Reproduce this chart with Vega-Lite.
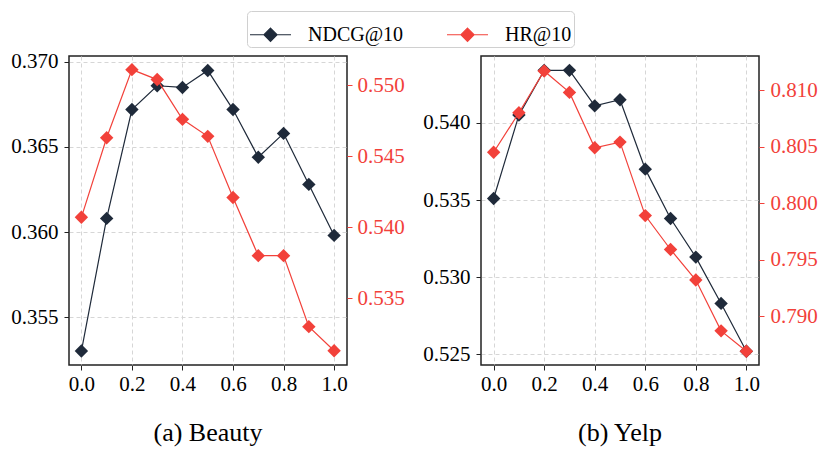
{
  "$schema": "https://vega.github.io/schema/vega-lite/v6.json",
  "background": "white",
  "padding": {"left": 10, "top": 10, "right": 5, "bottom": 5},
  "config": {
    "font": "Liberation Serif",
    "view": {"stroke": "#222222", "strokeWidth": 1.5},
    "axis": {
      "labelFont": "Liberation Serif",
      "labelFontSize": 21,
      "labelColor": "black",
      "tickColor": "#222222",
      "tickSize": 5,
      "domain": false,
      "gridColor": "#d6d6d6",
      "gridDash": [4, 3],
      "gridWidth": 1
    },
    "axisX": {"labelPadding": 3},
    "axisY": {"labelPadding": 6},
    "title": {"font": "Liberation Serif", "fontSize": 26, "fontWeight": "normal", "color": "black"}
  },
  "datasets": {
    "scores": [
      {"dataset": "Beauty", "metric": "NDCG@10", "lambda": 0.0, "value": 0.3530},
      {"dataset": "Beauty", "metric": "NDCG@10", "lambda": 0.1, "value": 0.3608},
      {"dataset": "Beauty", "metric": "NDCG@10", "lambda": 0.2, "value": 0.3672},
      {"dataset": "Beauty", "metric": "NDCG@10", "lambda": 0.3, "value": 0.3686},
      {"dataset": "Beauty", "metric": "NDCG@10", "lambda": 0.4, "value": 0.3685},
      {"dataset": "Beauty", "metric": "NDCG@10", "lambda": 0.5, "value": 0.3695},
      {"dataset": "Beauty", "metric": "NDCG@10", "lambda": 0.6, "value": 0.3672},
      {"dataset": "Beauty", "metric": "NDCG@10", "lambda": 0.7, "value": 0.3644},
      {"dataset": "Beauty", "metric": "NDCG@10", "lambda": 0.8, "value": 0.3658},
      {"dataset": "Beauty", "metric": "NDCG@10", "lambda": 0.9, "value": 0.3628},
      {"dataset": "Beauty", "metric": "NDCG@10", "lambda": 1.0, "value": 0.3598},
      {"dataset": "Beauty", "metric": "HR@10", "lambda": 0.0, "value": 0.5407},
      {"dataset": "Beauty", "metric": "HR@10", "lambda": 0.1, "value": 0.5463},
      {"dataset": "Beauty", "metric": "HR@10", "lambda": 0.2, "value": 0.5511},
      {"dataset": "Beauty", "metric": "HR@10", "lambda": 0.3, "value": 0.5504},
      {"dataset": "Beauty", "metric": "HR@10", "lambda": 0.4, "value": 0.5476},
      {"dataset": "Beauty", "metric": "HR@10", "lambda": 0.5, "value": 0.5464},
      {"dataset": "Beauty", "metric": "HR@10", "lambda": 0.6, "value": 0.5421},
      {"dataset": "Beauty", "metric": "HR@10", "lambda": 0.7, "value": 0.5380},
      {"dataset": "Beauty", "metric": "HR@10", "lambda": 0.8, "value": 0.5380},
      {"dataset": "Beauty", "metric": "HR@10", "lambda": 0.9, "value": 0.5330},
      {"dataset": "Beauty", "metric": "HR@10", "lambda": 1.0, "value": 0.5313},
      {"dataset": "Yelp", "metric": "NDCG@10", "lambda": 0.0, "value": 0.5351},
      {"dataset": "Yelp", "metric": "NDCG@10", "lambda": 0.1, "value": 0.5405},
      {"dataset": "Yelp", "metric": "NDCG@10", "lambda": 0.2, "value": 0.5434},
      {"dataset": "Yelp", "metric": "NDCG@10", "lambda": 0.3, "value": 0.5434},
      {"dataset": "Yelp", "metric": "NDCG@10", "lambda": 0.4, "value": 0.5411},
      {"dataset": "Yelp", "metric": "NDCG@10", "lambda": 0.5, "value": 0.5415},
      {"dataset": "Yelp", "metric": "NDCG@10", "lambda": 0.6, "value": 0.5370},
      {"dataset": "Yelp", "metric": "NDCG@10", "lambda": 0.7, "value": 0.5338},
      {"dataset": "Yelp", "metric": "NDCG@10", "lambda": 0.8, "value": 0.5313},
      {"dataset": "Yelp", "metric": "NDCG@10", "lambda": 0.9, "value": 0.5283},
      {"dataset": "Yelp", "metric": "NDCG@10", "lambda": 1.0, "value": 0.5252},
      {"dataset": "Yelp", "metric": "HR@10", "lambda": 0.0, "value": 0.8045},
      {"dataset": "Yelp", "metric": "HR@10", "lambda": 0.1, "value": 0.8080},
      {"dataset": "Yelp", "metric": "HR@10", "lambda": 0.2, "value": 0.8117},
      {"dataset": "Yelp", "metric": "HR@10", "lambda": 0.3, "value": 0.8098},
      {"dataset": "Yelp", "metric": "HR@10", "lambda": 0.4, "value": 0.8049},
      {"dataset": "Yelp", "metric": "HR@10", "lambda": 0.5, "value": 0.8054},
      {"dataset": "Yelp", "metric": "HR@10", "lambda": 0.6, "value": 0.7989},
      {"dataset": "Yelp", "metric": "HR@10", "lambda": 0.7, "value": 0.7959},
      {"dataset": "Yelp", "metric": "HR@10", "lambda": 0.8, "value": 0.7932},
      {"dataset": "Yelp", "metric": "HR@10", "lambda": 0.9, "value": 0.7887},
      {"dataset": "Yelp", "metric": "HR@10", "lambda": 1.0, "value": 0.7869}
    ]
  },
  "data": {"name": "scores"},
  "spacing": 17,
  "hconcat": [
    {
      "width": 278,
      "height": 309,
      "title": {"text": "(a) Beauty", "orient": "bottom", "offset": 26},
      "transform": [{"filter": "datum.dataset == 'Beauty'"}],
      "encoding": {
        "x": {
          "field": "lambda", "type": "quantitative",
          "scale": {"domain": [-0.049, 1.051], "nice": false, "zero": false},
          "axis": {"title": null, "values": [0, 0.2, 0.4, 0.6, 0.8, 1.0], "format": ".1f", "grid": true}
        },
        "color": {
          "field": "metric", "type": "nominal",
          "scale": {"domain": ["NDCG@10", "HR@10"], "range": ["#1f2a3a", "#f2413a"]},
          "legend": {
            "title": null, "orient": "none", "direction": "horizontal",
            "legendX": 178, "legendY": -45,
            "symbolType": "M-1,0L1,0M0,-0.32L0.32,0L0,0.32L-0.32,0Z",
            "symbolSize": 1681, "symbolStrokeWidth": 1.2,
            "labelFont": "Liberation Serif", "labelFontSize": 20, "labelOffset": 16,
            "columnPadding": 40, "padding": 2,
            "strokeColor": "#d0d0d0", "fillColor": "white", "cornerRadius": 4
          }
        }
      },
      "layer": [
        {
          "transform": [{"filter": "datum.metric == 'NDCG@10'"}],
          "encoding": {
            "y": {
              "field": "value", "type": "quantitative",
              "scale": {"domain": [0.35218, 0.37035], "nice": false, "zero": false},
              "axis": {"title": null, "values": [0.355, 0.36, 0.365, 0.37], "format": ".3f", "grid": true, "orient": "left"}
            }
          },
          "layer": [
            {"mark": {"type": "line", "strokeWidth": 1.2}},
            {"mark": {"type": "point", "shape": "diamond", "filled": true, "opacity": 1, "size": 180}}
          ]
        },
        {
          "transform": [{"filter": "datum.metric == 'HR@10'"}],
          "encoding": {
            "y": {
              "field": "value", "type": "quantitative",
              "scale": {"domain": [0.5303, 0.55206], "nice": false, "zero": false},
              "axis": {"title": null, "values": [0.535, 0.54, 0.545, 0.55], "format": ".3f", "grid": false, "orient": "right", "labelPadding": 5, "labelColor": "#f2413a", "tickColor": "#f2413a"}
            }
          },
          "layer": [
            {"mark": {"type": "line", "strokeWidth": 1.2}},
            {"mark": {"type": "point", "shape": "diamond", "filled": true, "opacity": 1, "size": 180}}
          ]
        }
      ],
      "resolve": {"scale": {"y": "independent"}}
    },
    {
      "width": 278,
      "height": 309,
      "title": {"text": "(b) Yelp", "orient": "bottom", "offset": 26},
      "transform": [{"filter": "datum.dataset == 'Yelp'"}],
      "encoding": {
        "x": {
          "field": "lambda", "type": "quantitative",
          "scale": {"domain": [-0.05, 1.05], "nice": false, "zero": false},
          "axis": {"title": null, "values": [0, 0.2, 0.4, 0.6, 0.8, 1.0], "format": ".1f", "grid": true}
        },
        "color": {
          "field": "metric", "type": "nominal",
          "scale": {"domain": ["NDCG@10", "HR@10"], "range": ["#1f2a3a", "#f2413a"]}
        }
      },
      "layer": [
        {
          "transform": [{"filter": "datum.metric == 'NDCG@10'"}],
          "encoding": {
            "y": {
              "field": "value", "type": "quantitative",
              "scale": {"domain": [0.52431, 0.54433], "nice": false, "zero": false},
              "axis": {"title": null, "values": [0.525, 0.53, 0.535, 0.54], "format": ".3f", "grid": true, "orient": "left"}
            }
          },
          "layer": [
            {"mark": {"type": "line", "strokeWidth": 1.2}},
            {"mark": {"type": "point", "shape": "diamond", "filled": true, "opacity": 1, "size": 180}}
          ]
        },
        {
          "transform": [{"filter": "datum.metric == 'HR@10'"}],
          "encoding": {
            "y": {
              "field": "value", "type": "quantitative",
              "scale": {"domain": [0.78568, 0.81302], "nice": false, "zero": false},
              "axis": {"title": null, "values": [0.79, 0.795, 0.8, 0.805, 0.81], "format": ".3f", "grid": false, "orient": "right", "labelPadding": 6, "labelColor": "#f2413a", "tickColor": "#f2413a"}
            }
          },
          "layer": [
            {"mark": {"type": "line", "strokeWidth": 1.2}},
            {"mark": {"type": "point", "shape": "diamond", "filled": true, "opacity": 1, "size": 180}}
          ]
        }
      ],
      "resolve": {"scale": {"y": "independent"}}
    }
  ]
}
